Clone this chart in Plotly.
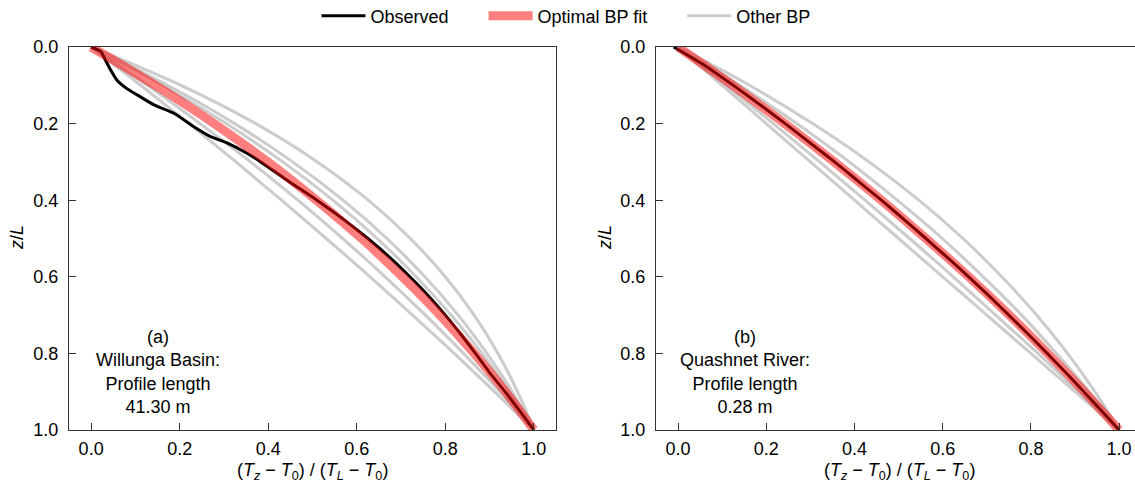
import plotly.graph_objects as go

# ---------------- data ----------------
z_grid = [0.0, 0.1, 0.2, 0.3, 0.4, 0.5, 0.6, 0.7, 0.8, 0.9, 1.0]

# Panel (a) Willunga Basin
obs_a_z = [0.0, 0.012, 0.034, 0.06, 0.086, 0.108, 0.125, 0.151, 0.173, 0.208, 0.234,
           0.251, 0.278, 0.30, 0.35, 0.40, 0.45, 0.50, 0.55, 0.60, 0.65, 0.70, 0.75,
           0.80, 0.85, 0.90, 0.95, 1.0]
obs_a_x = [0.0, 0.022, 0.032, 0.044, 0.058, 0.08, 0.104, 0.142, 0.187, 0.232, 0.27,
           0.308, 0.353, 0.383, 0.445, 0.51, 0.57, 0.625, 0.675, 0.72, 0.762, 0.80, 0.835,
           0.868, 0.90, 0.935, 0.968, 1.0]
fit_a_x = [0.0, 0.145, 0.278, 0.399, 0.509, 0.611, 0.703, 0.788, 0.865, 0.936, 1.0]
other_a = [
    [0.0, 0.203, 0.372, 0.511, 0.626, 0.721, 0.800, 0.865, 0.919, 0.963, 1.0],
    [0.0, 0.173, 0.324, 0.455, 0.569, 0.668, 0.754, 0.829, 0.894, 0.951, 1.0],
    [0.0, 0.162, 0.305, 0.433, 0.546, 0.646, 0.734, 0.813, 0.883, 0.945, 1.0],
    [0.0, 0.127, 0.246, 0.360, 0.467, 0.568, 0.664, 0.755, 0.841, 0.923, 1.0],
    [0.0, 0.112, 0.221, 0.327, 0.430, 0.531, 0.630, 0.726, 0.820, 0.911, 1.0],
]

# Panel (b) Quashnet River
obs_b_z = [0.0, 0.05, 0.1, 0.15, 0.2, 0.25, 0.3, 0.35, 0.4, 0.45, 0.5, 0.55, 0.6,
           0.65, 0.7, 0.75, 0.8, 0.85, 0.9, 0.95, 1.0]
obs_b_x = [-0.01, 0.063, 0.125, 0.185, 0.243, 0.299, 0.355, 0.408, 0.461, 0.512, 0.562,
           0.611, 0.659, 0.705, 0.750, 0.794, 0.837, 0.879, 0.920, 0.960, 1.0]
fit_b_x = [0.0, 0.124, 0.242, 0.354, 0.461, 0.562, 0.659, 0.751, 0.838, 0.921, 1.0]
other_b = [
    [0.0, 0.162, 0.305, 0.433, 0.546, 0.646, 0.734, 0.813, 0.883, 0.945, 1.0],
    [0.0, 0.140, 0.269, 0.388, 0.497, 0.599, 0.692, 0.779, 0.858, 0.932, 1.0],
    [0.0, 0.109, 0.216, 0.321, 0.424, 0.525, 0.624, 0.720, 0.816, 0.908, 1.0],
    [0.0, 0.100, 0.200, 0.300, 0.400, 0.500, 0.600, 0.700, 0.800, 0.900, 1.0],
]

labels = ["(a)<br>Willunga Basin:<br>Profile length<br>41.30 m",
          "(b)<br>Quashnet River:<br>Profile length<br>0.28 m"]
tick_vals = [0.0, 0.2, 0.4, 0.6, 0.8, 1.0]
tick_text = ["0.0", "0.2", "0.4", "0.6", "0.8", "1.0"]

# ---------------- figure ----------------
FONT = "Liberation Sans, Arial, sans-serif"
W, H = 1135, 484
GRAY = "#cccccc"
RED = "rgba(255,0,0,0.5)"
PAD = "\u00a0" * 6

fig = go.Figure()

panels = [
    dict(xa="x", ya="y", obs_z=obs_a_z, obs_x=obs_a_x, fit=fit_a_x, others=other_a),
    dict(xa="x2", ya="y2", obs_z=obs_b_z, obs_x=obs_b_x, fit=fit_b_x, others=other_b),
]

for i, p in enumerate(panels):
    first = i == 0
    for j, ox in enumerate(p["others"]):
        fig.add_trace(go.Scatter(x=ox, y=z_grid, mode="lines", xaxis=p["xa"], yaxis=p["ya"],
                                 line=dict(color=GRAY, width=3, shape="spline", smoothing=1),
                                 name="Other BP", legendrank=3,
                                 showlegend=first and j == 0, legendgroup="other"))
    fig.add_trace(go.Scatter(x=p["obs_x"], y=p["obs_z"], mode="lines", xaxis=p["xa"], yaxis=p["ya"],
                             line=dict(color="black", width=3, shape="spline", smoothing=0.6),
                             name="Observed" + PAD, legendrank=1, showlegend=first, legendgroup="obs"))
    fig.add_trace(go.Scatter(x=p["fit"], y=z_grid, mode="lines", xaxis=p["xa"], yaxis=p["ya"],
                             line=dict(color=RED, width=9, shape="spline", smoothing=1),
                             name="Optimal BP fit" + PAD, legendrank=2, showlegend=first,
                             legendgroup="fit"))

px = lambda v: v / W
py = lambda v: 1 - v / H

axis_common = dict(showline=True, linecolor="#333333", linewidth=1, ticks="inside", ticklen=7,
                   tickcolor="#333333", tickwidth=1, showgrid=False, zeroline=False,
                   automargin=False,
                   tickfont=dict(size=18, color="black", family=FONT))

fig.update_layout(
    width=W, height=H, margin=dict(l=0, r=0, t=0, b=0, autoexpand=False),
    paper_bgcolor="white", plot_bgcolor="white",
    font=dict(family=FONT, size=18, color="black"),
    legend=dict(orientation="h", x=px(566), xanchor="center", y=py(16), yanchor="middle",
                font=dict(size=18), bgcolor="rgba(0,0,0,0)", itemwidth=44),
    xaxis=dict(domain=[px(69), px(556)], range=[-0.05, 1.05], tickvals=tick_vals, ticktext=tick_text,
               mirror=True, anchor="y", ticklabelstandoff=2, **axis_common),
    yaxis=dict(domain=[py(430), py(47)], range=[1, 0], tickvals=tick_vals, ticktext=tick_text,
               mirror=True, anchor="x", ticklabelstandoff=6, **axis_common),
    xaxis2=dict(domain=[px(656), 1.0], range=[-0.05, 1.036], tickvals=tick_vals, ticktext=tick_text,
                mirror=True, anchor="y2", ticklabelstandoff=2, **axis_common),
    yaxis2=dict(domain=[py(430), py(47)], range=[1, 0], tickvals=tick_vals, ticktext=tick_text,
                mirror=False, anchor="x2", ticklabelstandoff=6, **axis_common),
)

xtitle = "(<i>T<sub>z</sub></i> \u2212 <i>T</i><sub>0</sub>) / (<i>T<sub>L</sub></i> \u2212 <i>T</i><sub>0</sub>)"
for xc, ytx in [(312, 17), (899, 605)]:
    fig.add_annotation(x=px(xc), y=py(471), xref="paper", yref="paper", text=xtitle,
                       showarrow=False, xanchor="center", yanchor="middle", font=dict(size=18))
    fig.add_annotation(x=px(ytx), y=py(238), xref="paper", yref="paper", text="<i>z</i>/<i>L</i>",
                       showarrow=False, textangle=-90, xanchor="center", yanchor="middle",
                       font=dict(size=18))

for k, (xa, ya) in enumerate([("x", "y"), ("x2", "y2")]):
    fig.add_annotation(x=0.152, y=0.849, xref=xa, yref=ya, text=labels[k], showarrow=False,
                       xanchor="center", yanchor="middle", align="center", font=dict(size=18))

fig.write_html("out.html")
